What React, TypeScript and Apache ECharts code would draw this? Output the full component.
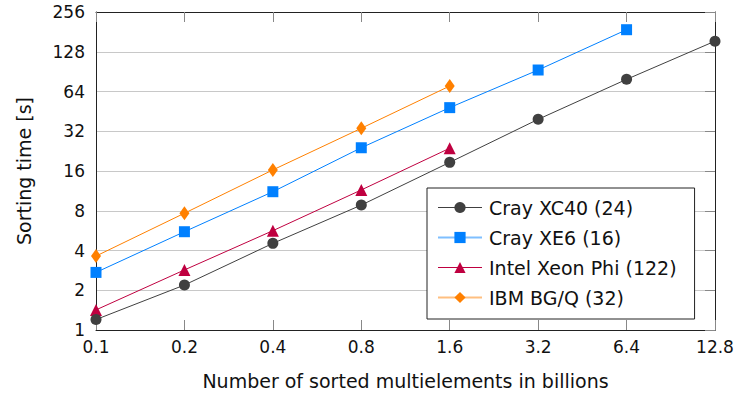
import React, { useEffect, useRef } from "react";
import * as echarts from "echarts";

const xLabels = ["0.1", "0.2", "0.4", "0.8", "1.6", "3.2", "6.4", "12.8"];
const yTicks = [1, 2, 4, 8, 16, 32, 64, 128, 256];

const crayXC40 = [1.2, 2.19, 4.53, 8.83, 18.6, 39.4, 79.1, 154];
const crayXE6 = [2.73, 5.55, 11.15, 24.0, 48.3, 93.1, 188];
const xeonPhi = [1.42, 2.85, 5.65, 11.5, 23.8];
const bgq = [3.63, 7.66, 16.3, 33.7, 70.4];

const seriesNames = ["Cray XC40 (24)", "Cray XE6 (16)", "Intel Xeon Phi (122)", "IBM BG/Q (32)"];
const colors = ["#404040", "#0080ff", "#bf0040", "#ff8000"];
const legendLineColors = ["#404040", "#7fbfff", "#bf0040", "#ffbf80"];
const symbols = ["circle", "rect", "triangle", "diamond"];
const symbolSizes: any[] = [11, 11, 12, [10, 14]];

const FONT = "DejaVu Sans";

export default function App() {
  const ref = useRef<HTMLDivElement>(null);
  useEffect(() => {
    if (!ref.current) return;
    const chart = echarts.init(ref.current, null, { renderer: "svg" });
    const datasets = [crayXC40, crayXE6, xeonPhi, bgq];
    chart.setOption({
      animation: false,
      textStyle: { fontFamily: FONT },
      grid: { left: 96, right: 30, top: 12, bottom: 68, containLabel: false },
      xAxis: [
        {
          type: "category",
          data: xLabels,
          boundaryGap: false,
          name: "Number of sorted multielements in billions",
          nameLocation: "middle",
          nameGap: 41,
          nameTextStyle: { fontSize: 19, color: "#111", fontFamily: FONT },
          axisLine: { lineStyle: { color: "#222", width: 1 } },
          axisTick: { inside: true, length: 10, lineStyle: { color: "#888" } },
          axisLabel: { fontSize: 17, color: "#111", margin: 8, fontFamily: FONT },
          splitLine: { show: false },
        },
        {
          type: "category",
          data: xLabels,
          boundaryGap: false,
          position: "top",
          axisLine: { lineStyle: { color: "#222", width: 1 } },
          axisTick: { inside: true, length: 10, lineStyle: { color: "#888" } },
          axisLabel: { show: false },
          splitLine: { show: false },
        },
      ],
      yAxis: [
        {
          type: "log",
          logBase: 2,
          min: yTicks[0],
          max: yTicks[yTicks.length - 1],
          name: "Sorting time [s]",
          nameLocation: "middle",
          nameGap: 63,
          nameRotate: 90,
          nameTextStyle: { fontSize: 19, color: "#111", fontFamily: FONT },
          axisLine: { show: true, lineStyle: { color: "#222", width: 1 } },
          axisTick: { show: false },
          axisLabel: {
            fontSize: 17,
            color: "#111",
            margin: 11,
            fontFamily: FONT,
            formatter: (v: number) => String(Math.round(v)),
          },
          splitLine: { show: true, lineStyle: { color: "#c8c8c8", width: 1 } },
        },
        {
          type: "log",
          logBase: 2,
          min: yTicks[0],
          max: yTicks[yTicks.length - 1],
          position: "right",
          axisLine: { show: true, lineStyle: { color: "#222", width: 1 } },
          axisTick: { show: true, inside: true, length: 10, lineStyle: { color: "#888" } },
          axisLabel: { show: false },
          splitLine: { show: false },
        },
      ],
      legend: {
        orient: "vertical",
        left: 427,
        top: 188,
        padding: [10, 18, 12, 10],
        itemWidth: 44,
        itemHeight: 14,
        itemGap: 11,
        backgroundColor: "#fff",
        borderColor: "#222",
        borderWidth: 1,
        borderRadius: 0,
        textStyle: { fontSize: 19, color: "#111", fontFamily: FONT, padding: [0, 0, 0, 2] },
        data: seriesNames.map((n, i) => ({
          name: n,
          lineStyle: { color: legendLineColors[i], width: i === 1 || i === 3 ? 2 : 1 },
        })),
      },
      series: datasets.map((d, i) => ({
        name: seriesNames[i],
        type: "line",
        xAxisIndex: 0,
        yAxisIndex: 0,
        data: d,
        symbol: symbols[i],
        symbolSize: symbolSizes[i],
        showSymbol: true,
        z: 10 - i,
        lineStyle: { color: colors[i], width: 1 },
        itemStyle: { color: colors[i], borderWidth: 0 },
      })),
    });
    return () => chart.dispose();
  }, []);
  return <div ref={ref} style={{ width: 745, height: 398, position: "absolute", left: 0, top: 0 }} />;
}
